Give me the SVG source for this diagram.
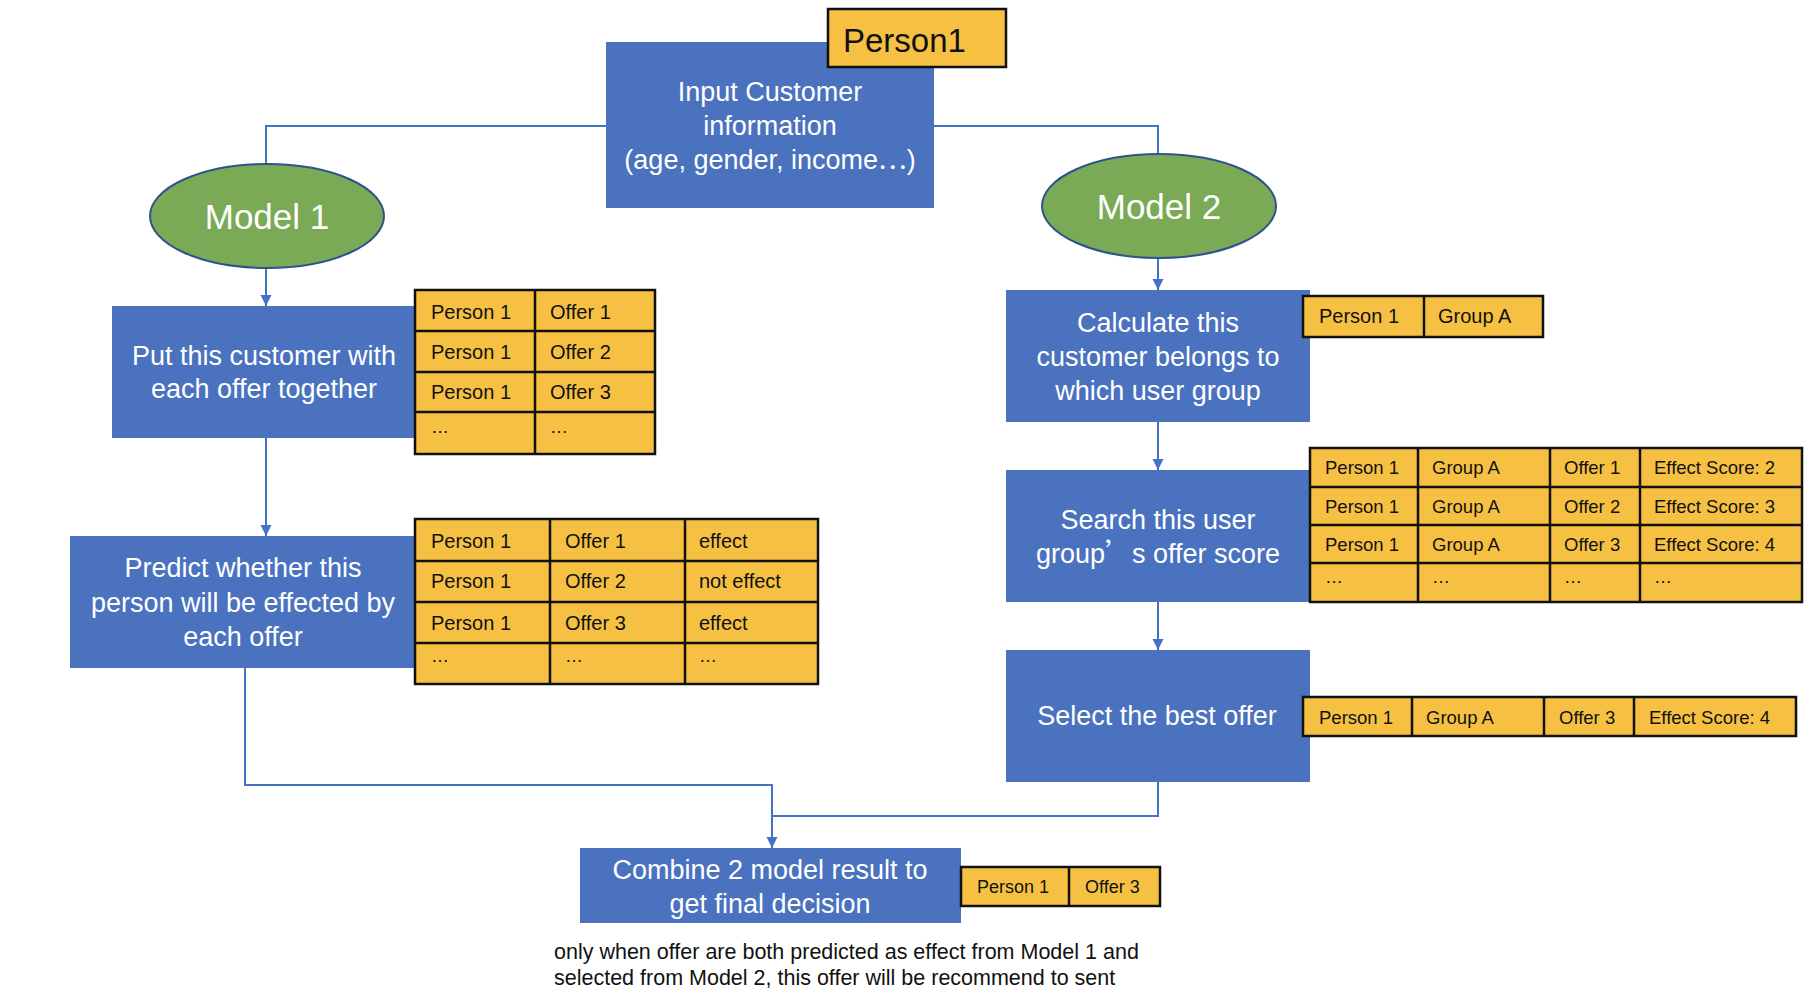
<svg xmlns="http://www.w3.org/2000/svg" width="1814" height="1008" viewBox="0 0 1814 1008">
<defs>
<marker id="arr" viewBox="0 0 10 10" refX="10" refY="5" markerWidth="11" markerHeight="12" markerUnits="userSpaceOnUse" orient="auto">
<path d="M0,0 L10,5 L0,10 z" fill="#4472C4"/>
</marker>
<style>
.box{fill:#4A72BF;}
.ell{fill:#7AAA55;stroke:#2F528F;stroke-width:2;}
.bt{font-family:"Liberation Sans",Arial,sans-serif;font-size:27px;fill:#fff;text-anchor:middle;}
.mt{font-family:"Liberation Sans",Arial,sans-serif;font-size:35px;fill:#fff;text-anchor:middle;}
.tb{fill:#F6C142;stroke:#111;stroke-width:2.5;}
.tl{stroke:#111;stroke-width:2.5;fill:none;}
.t20{font-family:"Liberation Sans",Arial,sans-serif;font-size:20px;fill:#111;}
.t18{font-family:"Liberation Sans",Arial,sans-serif;font-size:18.5px;fill:#111;}
.t18b{font-family:"Liberation Sans",Arial,sans-serif;font-size:18px;fill:#111;}
.note{font-family:"Liberation Sans",Arial,sans-serif;font-size:21.5px;fill:#111;}
.con{fill:none;stroke:#4472C4;stroke-width:2;}
.cjk{font-family:"Noto Sans CJK SC",sans-serif;}
</style>
</defs>
<rect width="1814" height="1008" fill="#fff"/>

<g id="connectors">
<path class="con" d="M606,126 H266 V164"/>
<path class="con" d="M934,126 H1158 V155"/>
<path class="con" d="M266,268 V306" marker-end="url(#arr)"/>
<path class="con" d="M266,438 V536" marker-end="url(#arr)"/>
<path class="con" d="M245,668 V785 H772 V848" marker-end="url(#arr)"/>
<path class="con" d="M1158,258 V290" marker-end="url(#arr)"/>
<path class="con" d="M1158,422 V470" marker-end="url(#arr)"/>
<path class="con" d="M1158,602 V650" marker-end="url(#arr)"/>
<path class="con" d="M1158,782 V816 H772"/>
</g>

<g id="input">
<rect class="box" x="606" y="42" width="328" height="166"/>
<text class="bt" x="770" y="101">Input Customer</text>
<text class="bt" x="770" y="135">information</text>
<text class="bt" x="770" y="169">(age, gender, income<tspan class="cjk">…</tspan>)</text>
</g>

<g id="person1">
<rect class="tb" x="828" y="9" width="178" height="58"/>
<text x="843" y="52" font-family="Liberation Sans, Arial, sans-serif" font-size="33" fill="#111">Person1</text>
</g>

<g id="model1">
<ellipse class="ell" cx="267" cy="216" rx="117" ry="52"/>
<text class="mt" x="267" y="229">Model 1</text>
</g>

<g id="model2">
<ellipse class="ell" cx="1159" cy="206" rx="117" ry="52"/>
<text class="mt" x="1159" y="219">Model 2</text>
</g>

<g id="put">
<rect class="box" x="112" y="306" width="303" height="132"/>
<text class="bt" x="264" y="365">Put this customer with</text>
<text class="bt" x="264" y="398">each offer together</text>
</g>

<g id="put-table">
<rect class="tb" x="415" y="290" width="240" height="164"/>
<path class="tl" d="M535,290 V454 M415,331 H655 M415,372 H655 M415,412 H655"/>
<text class="t20" x="431" y="319">Person 1</text><text class="t20" x="550" y="319">Offer 1</text>
<text class="t20" x="431" y="359">Person 1</text><text class="t20" x="550" y="359">Offer 2</text>
<text class="t20" x="431" y="399">Person 1</text><text class="t20" x="550" y="399">Offer 3</text>
<text class="t18b" x="431" y="433">…</text><text class="t18b" x="550" y="433">…</text>
</g>

<g id="predict">
<rect class="box" x="70" y="536" width="345" height="132"/>
<text class="bt" x="243" y="577">Predict whether this</text>
<text class="bt" x="243" y="612">person will be effected by</text>
<text class="bt" x="243" y="646">each offer</text>
</g>

<g id="predict-table">
<rect class="tb" x="415" y="519" width="403" height="165"/>
<path class="tl" d="M550,519 V684 M685,519 V684 M415,561 H818 M415,602 H818 M415,643 H818"/>
<text class="t20" x="431" y="548">Person 1</text><text class="t20" x="565" y="548">Offer 1</text><text class="t20" x="699" y="548">effect</text>
<text class="t20" x="431" y="588">Person 1</text><text class="t20" x="565" y="588">Offer 2</text><text class="t20" x="699" y="588">not effect</text>
<text class="t20" x="431" y="630">Person 1</text><text class="t20" x="565" y="630">Offer 3</text><text class="t20" x="699" y="630">effect</text>
<text class="t18b" x="431" y="662">…</text><text class="t18b" x="565" y="662">…</text><text class="t18b" x="699" y="662">…</text>
</g>

<g id="calculate">
<rect class="box" x="1006" y="290" width="304" height="132"/>
<text class="bt" x="1158" y="332">Calculate this</text>
<text class="bt" x="1158" y="366">customer belongs to</text>
<text class="bt" x="1158" y="400">which user group</text>
</g>

<g id="group-table">
<rect class="tb" x="1303" y="296" width="240" height="41"/>
<path class="tl" d="M1424,296 V337"/>
<text class="t20" x="1319" y="323">Person 1</text><text class="t20" x="1438" y="323">Group A</text>
</g>

<g id="search">
<rect class="box" x="1006" y="470" width="304" height="132"/>
<text class="bt" x="1158" y="529">Search this user</text>
<text class="bt" x="1158" y="563">group<tspan class="cjk">’</tspan>s offer score</text>
</g>

<g id="search-table">
<rect class="tb" x="1310" y="448" width="492" height="154"/>
<path class="tl" d="M1418,448 V602 M1550,448 V602 M1640,448 V602 M1310,487 H1802 M1310,525 H1802 M1310,563 H1802"/>
<text class="t18" x="1325" y="474">Person 1</text><text class="t18" x="1432" y="474">Group A</text><text class="t18" x="1564" y="474">Offer 1</text><text class="t18" x="1654" y="474">Effect Score: 2</text>
<text class="t18" x="1325" y="513">Person 1</text><text class="t18" x="1432" y="513">Group A</text><text class="t18" x="1564" y="513">Offer 2</text><text class="t18" x="1654" y="513">Effect Score: 3</text>
<text class="t18" x="1325" y="551">Person 1</text><text class="t18" x="1432" y="551">Group A</text><text class="t18" x="1564" y="551">Offer 3</text><text class="t18" x="1654" y="551">Effect Score: 4</text>
<text class="t18b" x="1325" y="583">…</text><text class="t18b" x="1432" y="583">…</text><text class="t18b" x="1564" y="583">…</text><text class="t18b" x="1654" y="583">…</text>
</g>

<g id="select">
<rect class="box" x="1006" y="650" width="304" height="132"/>
<text class="bt" x="1157" y="725">Select the best offer</text>
</g>

<g id="select-table">
<rect class="tb" x="1303" y="697" width="493" height="39"/>
<path class="tl" d="M1412,697 V736 M1544,697 V736 M1634,697 V736"/>
<text class="t18" x="1319" y="724">Person 1</text><text class="t18" x="1426" y="724">Group A</text><text class="t18" x="1559" y="724">Offer 3</text><text class="t18" x="1649" y="724">Effect Score: 4</text>
</g>

<g id="combine">
<rect class="box" x="580" y="848" width="381" height="75"/>
<text class="bt" x="770" y="879" font-size="27.5">Combine 2 model result to</text>
<text class="bt" x="770" y="913" font-size="27.5">get final decision</text>
</g>

<g id="combine-table">
<rect class="tb" x="961" y="867" width="199" height="39"/>
<path class="tl" d="M1069,867 V906"/>
<text class="t18b" x="977" y="893">Person 1</text><text class="t18b" x="1085" y="893">Offer 3</text>
</g>

<g id="note">
<text class="note" x="554" y="959">only when offer are both predicted as effect from Model 1 and</text>
<text class="note" x="554" y="985">selected from Model 2, this offer will be recommend to sent</text>
</g>
</svg>
